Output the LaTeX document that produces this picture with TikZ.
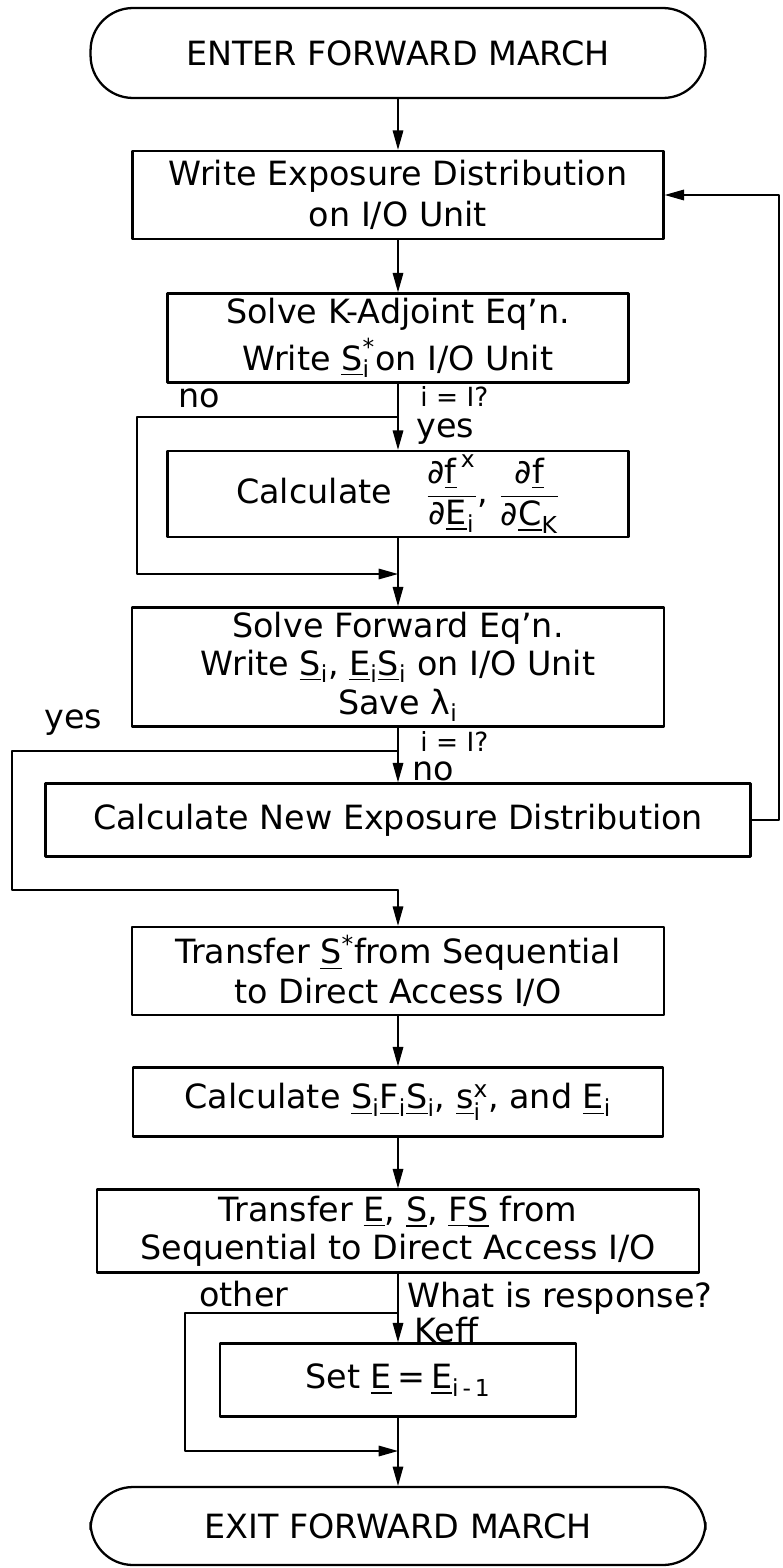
\documentclass[tikz,border=0pt]{standalone}
\usepackage{fontspec}
\setmainfont{DejaVu Sans}
\usepackage{amsmath}
\usetikzlibrary{arrows.meta}
\newcommand{\uln}[1]{\underline{#1}}
\newcommand{\vsb}[3]{$\text{\uln{#1}}_{\text{#2}}^{\text{#3}}$}
\begin{document}
\begin{tikzpicture}[x=0.02cm, y=-0.02cm, line join=round, line cap=round,
	>={Triangle[length=11pt,width=6pt]},
	font=\fontsize{19}{23}\selectfont,
	box/.style={draw, line width=1.4pt, align=center, inner sep=0pt},
	term/.style={draw, line width=1.3pt, rounded corners=0.85cm, inner sep=0pt},
	tight/.style={font=\fontsize{19}{21.5}\selectfont},
	lbl/.style={anchor=west, inner sep=0pt},
	small/.style={font=\fontsize{15}{16}\selectfont},
	flow/.style={line width=0.8pt}]
	\useasboundingbox (0,0) rectangle (782,1568);
	% Các khối
	\node[term, minimum width=12.3cm, minimum height=1.8cm] (enter) at (398,53) {ENTER FORWARD MARCH};
	\node[box, minimum width=10.62cm, minimum height=1.76cm] (wexp) at (398,195) {Write Exposure Distribution\\on I/O Unit};
	\node[box, minimum width=9.22cm, minimum height=1.78cm] (kadj) at (398,338) {Solve K-Adjoint Eq'n.\\[3.5pt]Write \vsb{S}{i}{*}on I/O Unit};
	\node[box, minimum width=9.22cm, minimum height=1.72cm] (calcd) at (398,494) {Calculate\quad $\dfrac{\text{∂\uln{f}}^{\,\text{x}}}{\text{∂\uln{E}}_{\text{i}}}$, $\dfrac{\text{∂\uln{f}}}{\text{∂\uln{C}}_{\text{K}}}$};
	\node[box, tight, minimum width=10.64cm, minimum height=2.38cm] (fwd) at (398,667) {Solve Forward Eq'n.\\Write \uln{S}\textsubscript{i}, \uln{E}\textsubscript{i}\uln{S}\textsubscript{i} on I/O Unit\\[1pt]Save λ\textsubscript{i}};
	\node[box, minimum width=14.1cm, minimum height=1.46cm] (calcnew) at (398,820) {Calculate New Exposure Distribution};
	\node[box, minimum width=10.64cm, minimum height=1.76cm] (tsx) at (398,971) {Transfer \uln{S}\textsuperscript{*}from Sequential\\to Direct Access I/O};
	\node[box, minimum width=10.6cm, minimum height=1.38cm] (calcs) at (398,1102) {Calculate \uln{S}\textsubscript{i}\uln{F}\textsubscript{i}\uln{S}\textsubscript{i}, \vsb{s}{i}{x}, and \uln{E}\textsubscript{i}};
	\node[box, tight, minimum width=12.04cm, minimum height=1.66cm] (tex) at (398,1231) {Transfer \uln{E}, \uln{S}, \uln{F}\uln{S} from\\Sequential to Direct Access I/O};
	\node[box, minimum width=7.12cm, minimum height=1.46cm] (setE) at (398,1380) {Set \uln{E}\,=\,\uln{E}\textsubscript{i\,-\,1}};
	\node[term, minimum width=12.3cm, minimum height=1.56cm] (exit) at (398,1526) {EXIT FORWARD MARCH};
	% Điểm rẽ nhánh
	\coordinate (nosplit) at (398,417);
	\coordinate (nojoin) at (398,574);
	\coordinate (yessplit) at (398,751);
	\coordinate (yesjoin) at (398,890);
	\coordinate (othsplit) at (398,1313);
	\coordinate (othjoin) at (398,1451);
	\coordinate (rt) at (779,0);
	% Đường nối
	\draw[flow,->] (enter.south) -- (wexp.north);
	\draw[flow,->] (wexp.south) -- (kadj.north);
	\draw[flow,->] (kadj.south) -- (calcd.north);
	\draw[flow,->] (nosplit) -- (137,417) |- (nojoin);
	\draw[flow,->] (calcd.south) -- (fwd.north);
	\draw[flow,->] (fwd.south) -- (calcnew.north);
	\draw[flow] (yessplit) -- (12,751) |- (yesjoin);
	\draw[flow,->] (yesjoin) -- (tsx.north);
	\draw[flow,->] (calcnew.east) -- (calcnew.east -| rt) |- (wexp.east);
	\draw[flow,->] (tsx.south) -- (calcs.north);
	\draw[flow,->] (calcs.south) -- (tex.north);
	\draw[flow,->] (tex.south) -- (setE.north);
	\draw[flow,->] (othsplit) -- (185,1313) |- (othjoin);
	\draw[flow,->] (setE.south) -- (exit.north);
	% Nhãn
	\node[lbl] (no1) at (178,398) {no};
	\node[lbl, small] (cond1) at (420,396) {i = I?};
	\node[lbl] (yes1) at (416,432) {yes};
	\node[lbl] (yes2) at (44,723) {yes};
	\node[lbl, small] (cond2) at (420,741) {i = I?};
	\node[lbl] (no2) at (412,771) {no};
	\node[lbl] (other) at (199,1294) {other};
	\node[lbl] (resp) at (407,1298) {What is response?};
	\node[lbl] (keff) at (414,1330) {Keff};
\end{tikzpicture}
\end{document}
